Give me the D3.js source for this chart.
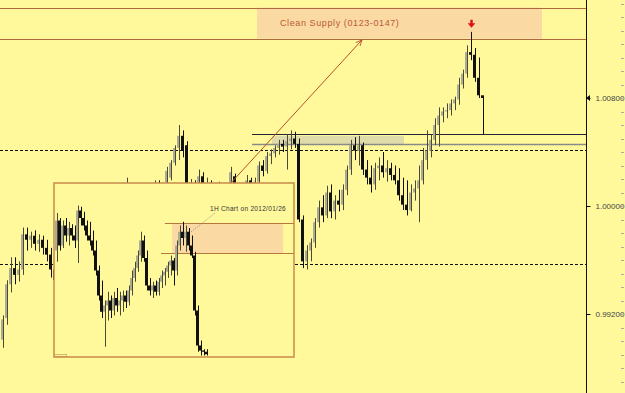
<!DOCTYPE html>
<html>
<head>
<meta charset="utf-8">
<script src="https://cdn.jsdelivr.net/npm/d3@7"></script>
<style>
  body { margin: 0; background: #fffa9e; }
  svg { display: block; }
</style>
</head>
<body>
<svg width="625" height="393"></svg>
<script>
// main chart, one row per bar: [open, high, low, close]
const mainBars = [
  [0.9901,0.9919,0.9895,0.9916],[0.9917,0.9945,0.9912,0.9942],[0.9942,0.9962,0.9936,0.9954],[0.9954,0.9962,0.9942,0.9949],
  [0.9949,0.9959,0.9944,0.9953],[0.9953,0.9984,0.9949,0.9979],[0.9979,0.9984,0.9967,0.9975],[0.9975,0.9981,0.9969,0.9978],
  [0.9978,0.9982,0.9967,0.9972],[0.9972,0.9979,0.9966,0.9975],[0.9975,0.9978,0.9964,0.9969],[0.9969,0.9975,0.9959,0.9964],
  [0.9964,0.9969,0.9947,0.9953],[0.9953,0.9960,0.9940,0.9945],[0.9945,0.9958,0.9940,0.9955],[0.9955,0.9966,0.9950,0.9963],
  [0.9963,0.9972,0.9958,0.9960],[0.9960,0.9975,0.9956,0.9972],[0.9972,0.9983,0.9968,0.9980],[0.9980,0.9986,0.9970,0.9974],
  [0.9974,0.9984,0.9969,0.9982],[0.9982,0.9992,0.9978,0.9988],[0.9988,0.9995,0.9980,0.9984],[0.9984,0.9994,0.9979,0.9991],
  [0.9991,1.0002,0.9986,0.9998],[0.9998,1.0006,0.9990,0.9993],[0.9993,1.0004,0.9988,1.0001],[1.0001,1.0010,0.9995,1.0006],
  [1.0006,1.0012,0.9998,1.0002],[1.0002,1.0010,0.9996,1.0007],[1.0007,1.0013,1.0000,1.0004],[1.0004,1.0021,1.0000,1.0008],
  [1.0008,1.0012,0.9998,1.0001],[1.0001,1.0008,0.9992,0.9996],[0.9996,1.0005,0.9990,1.0002],[1.0002,1.0010,0.9997,1.0006],
  [1.0006,1.0013,1.0000,1.0010],[1.0010,1.0015,1.0003,1.0007],[1.0007,1.0019,1.0004,1.0014],[1.0014,1.0019,1.0008,1.0012],
  [1.0012,1.0016,1.0005,1.0015],[1.0015,1.0029,1.0012,1.0026],[1.0021,1.0034,1.0019,1.0032],[1.0032,1.0045,1.0030,1.0043],
  [1.0043,1.0060,1.0034,1.0052],[1.0052,1.0056,1.0036,1.0041],[1.0045,1.0048,1.0002,1.0006],[1.0006,1.0020,1.0000,1.0016],
  [1.0016,1.0019,1.0004,1.0008],[1.0008,1.0027,1.0005,1.0022],[1.0022,1.0025,1.0010,1.0014],[1.0014,1.0021,1.0008,1.0017],
  [1.0017,1.0019,1.0006,1.0010],[1.0010,1.0016,1.0002,1.0012],[1.0012,1.0018,1.0006,1.0015],[1.0015,1.0017,1.0003,1.0008],
  [1.0008,1.0016,1.0004,1.0013],[1.0013,1.0029,1.0011,1.0025],[1.0022,1.0024,1.0008,1.0012],[1.0012,1.0016,1.0004,1.0010],
  [1.0010,1.0016,1.0006,1.0014],[1.0014,1.0023,1.0010,1.0019],[1.0019,1.0021,1.0008,1.0012],[1.0012,1.0021,1.0009,1.0018],
  [1.0018,1.0033,1.0015,1.0030],[1.0030,1.0034,1.0022,1.0026],[1.0026,1.0040,1.0024,1.0037],[1.0037,1.0042,1.0031,1.0039],
  [1.0039,1.0045,1.0036,1.0043],[1.0043,1.0049,1.0038,1.0046],[1.0046,1.0049,1.0040,1.0044],[1.0044,1.0053,1.0027,1.0048],
  [1.0048,1.0056,1.0042,1.0050],[1.0050,1.0055,1.0043,1.0046],[1.0046,1.0050,0.9988,0.9990],[0.9990,0.9993,0.9954,0.9959],
  [0.9959,0.9971,0.9953,0.9967],[0.9967,0.9976,0.9959,0.9973],[0.9973,0.9991,0.9969,0.9988],[0.9988,1.0004,0.9984,0.9999],
  [0.9999,1.0008,0.9988,0.9993],[0.9993,1.0015,0.9991,1.0010],[1.0010,1.0016,0.9991,0.9996],[0.9996,1.0008,0.9990,1.0004],
  [1.0004,1.0012,0.9996,1.0001],[1.0001,1.0016,0.9997,1.0012],[1.0012,1.0030,1.0008,1.0027],[1.0027,1.0049,1.0023,1.0045],
  [1.0045,1.0051,1.0034,1.0041],[1.0041,1.0052,1.0030,1.0045],[1.0045,1.0047,1.0023,1.0027],[1.0027,1.0034,1.0016,1.0021],
  [1.0021,1.0030,1.0010,1.0016],[1.0016,1.0032,1.0012,1.0028],[1.0028,1.0036,1.0019,1.0030],[1.0030,1.0040,1.0021,1.0025],
  [1.0025,1.0034,1.0018,1.0028],[1.0028,1.0032,1.0019,1.0023],[1.0023,1.0030,1.0016,1.0019],[1.0019,1.0028,1.0004,1.0008],
  [1.0008,1.0021,0.9997,1.0001],[1.0001,1.0019,0.9993,0.9997],[0.9997,1.0016,0.9996,1.0010],[1.0010,1.0019,1.0004,1.0013],
  [1.0013,1.0030,0.9988,1.0019],[1.0019,1.0043,1.0016,1.0034],[1.0034,1.0056,1.0027,1.0041],[1.0041,1.0053,1.0036,1.0049],
  [1.0049,1.0065,1.0045,1.0060],[1.0060,1.0073,1.0044,1.0067],[1.0067,1.0073,1.0062,1.0070],[1.0070,1.0076,1.0065,1.0071],
  [1.0071,1.0079,1.0067,1.0076],[1.0076,1.0081,1.0071,1.0079],[1.0079,1.0095,1.0075,1.0090],[1.0090,1.0101,1.0087,1.0098],
  [1.0098,1.0119,1.0095,1.0114],[1.0114,1.0129,1.0108,1.0112],[1.0112,1.0117,1.0092,1.0095],[1.0095,1.0110,1.0080,1.0082],
  [1.0082,1.0082,1.0053,1.0080]
];

// inset: the 1H chart of 2012/01/26, same layout [open, high, low, close]
const insetBars = [
  [1.0125,1.0155,1.0116,1.0149],[1.0149,1.0151,1.0125,1.0129],[1.0129,1.0149,1.0127,1.0145],[1.0145,1.0151,1.0132,1.0137],
  [1.0137,1.0148,1.0129,1.0143],[1.0143,1.0146,1.0133,1.0137],[1.0137,1.0145,1.0127,1.0133],[1.0133,1.0161,1.0115,1.0157],
  [1.0157,1.0160,1.0145,1.0151],[1.0151,1.0156,1.0141,1.0145],[1.0145,1.0149,1.0133,1.0137],[1.0137,1.0148,1.0129,1.0133],
  [1.0133,1.0141,1.0121,1.0125],[1.0125,1.0133,1.0105,1.0109],[1.0109,1.0113,1.0085,1.0089],[1.0089,1.0101,1.0071,1.0076],
  [1.0076,1.0085,1.0048,1.0081],[1.0081,1.0092,1.0069,1.0085],[1.0085,1.0089,1.0071,1.0077],[1.0077,1.0092,1.0073,1.0087],
  [1.0087,1.0095,1.0076,1.0081],[1.0081,1.0092,1.0073,1.0085],[1.0085,1.0093,1.0076,1.0089],[1.0089,1.0093,1.0079,1.0084],
  [1.0084,1.0097,1.0081,1.0093],[1.0093,1.0109,1.0089,1.0103],[1.0103,1.0116,1.0100,1.0111],[1.0111,1.0125,1.0108,1.0121],
  [1.0121,1.0140,1.0116,1.0133],[1.0133,1.0137,1.0116,1.0119],[1.0119,1.0125,1.0093,1.0097],[1.0097,1.0103,1.0089,1.0093],
  [1.0093,1.0100,1.0087,1.0097],[1.0097,1.0101,1.0089,1.0092],[1.0092,1.0103,1.0089,1.0100],[1.0100,1.0109,1.0095,1.0105],
  [1.0105,1.0111,1.0097,1.0108],[1.0108,1.0116,1.0103,1.0113],[1.0113,1.0121,1.0105,1.0117],[1.0117,1.0119,1.0097,1.0109],
  [1.0109,1.0133,1.0105,1.0129],[1.0129,1.0145,1.0125,1.0140],[1.0140,1.0148,1.0129,1.0135],[1.0135,1.0145,1.0124,1.0140],
  [1.0140,1.0143,1.0125,1.0129],[1.0129,1.0137,1.0119,1.0121],[1.0121,1.0124,1.0073,1.0077],[1.0077,1.0081,1.0044,1.0049],
  [1.0049,1.0053,1.0041,1.0045],[1.0045,1.0046,1.0041,1.0044],[1.0044,1.0046,1.0041,1.0042]
];

const priceTicks = [1.008, 1.000, 0.992];
const supplyZone = [1.0124, 1.0147];
const insetZone = [1.0123, 1.0147];
const solidLevel = 1.0053;
const grayLevel = 1.00456;
const dottedLevels = [1.00415, 0.9957];
const arrowLine = [[57.2, 1.0017], [90, 1.0123]];
const peakIndex = 117;
const lastPrice = 1.0080;
const supplyLabel = 'Clean Supply (0123-0147)';
const insetLabel = '1H Chart on 2012/01/26';

const W = 625, H = 393, axisX = 586;
const svg = d3.select('svg');

const x = d3.scaleLinear().domain([0, mainBars.length - 1]).range([2, 482]);
const y = d3.scaleLinear().domain([0.992, 1.008]).range([314, 98]);

svg.append('rect').attr('width', W).attr('height', H).attr('fill', '#fff99c');

// supply zone
const zone = svg.append('g');
zone.append('rect')
  .attr('x', x(63.75)).attr('y', y(supplyZone[1]))
  .attr('width', x(135) - x(63.75)).attr('height', y(supplyZone[0]) - y(supplyZone[1]))
  .attr('fill', '#fbd9a3');
zone.selectAll('line').data(supplyZone).join('line')
  .attr('x1', 0).attr('x2', axisX)
  .attr('y1', (d) => Math.round(y(d)) + 0.5).attr('y2', (d) => Math.round(y(d)) + 0.5)
  .attr('stroke', '#b0683e').attr('stroke-width', 1);
zone.append('text')
  .attr('x', 280).attr('y', (y(supplyZone[0]) + y(supplyZone[1])) / 2 + 3)
  .attr('fill', '#b85a36').style('font', '9px "Liberation Sans"').attr('letter-spacing', 0.6)
  .text(supplyLabel);

// levels
svg.append('rect')
  .attr('x', 272).attr('y', y(solidLevel) + 1.5)
  .attr('width', 132).attr('height', y(grayLevel) - y(solidLevel) - 1.5)
  .attr('fill', '#e0dcaa');
svg.append('line')
  .attr('x1', 252).attr('x2', axisX).attr('y1', Math.round(y(solidLevel)) + 0.5).attr('y2', Math.round(y(solidLevel)) + 0.5)
  .attr('stroke', '#22223a');
svg.append('line')
  .attr('x1', 252).attr('x2', axisX).attr('y1', Math.round(y(grayLevel)) + 0.5).attr('y2', Math.round(y(grayLevel)) + 0.5)
  .attr('stroke', '#8a8a88').attr('stroke-width', 1.6);
svg.selectAll('line.dotted').data(dottedLevels).join('line')
  .attr('class', 'dotted')
  .attr('x1', 0).attr('x2', axisX)
  .attr('y1', (d) => Math.round(y(d)) + 0.5).attr('y2', (d) => Math.round(y(d)) + 0.5)
  .attr('stroke', '#111').attr('stroke-dasharray', '3,2');

function drawCandles(g, bars, xs, ys) {
  const up = (d) => d[3] >= d[0];
  const c = g.selectAll('g.c').data(bars).join('g').attr('class', 'c');
  c.append('line')
    .attr('x1', (d, i) => Math.round(xs(i)) + 1.5).attr('x2', (d, i) => Math.round(xs(i)) + 1.5)
    .attr('y1', (d) => ys(d[1])).attr('y2', (d) => ys(d[2]))
    .attr('stroke', (d) => (up(d) ? '#4a4a3c' : '#111')).attr('stroke-width', 1);
  c.append('rect')
    .attr('x', (d, i) => Math.round(xs(i)) - 1)
    .attr('y', (d) => ys(Math.max(d[0], d[3])))
    .attr('width', 2)
    .attr('height', (d) => Math.max(1, Math.abs(ys(d[0]) - ys(d[3]))))
    .attr('fill', (d) => (up(d) ? '#aeac8e' : '#111'));
}

drawCandles(svg.append('g'), mainBars, x, y);

// arrow from the inset up to the supply zone
svg.append('defs').append('marker')
  .attr('id', 'head').attr('viewBox', '0 0 10 10').attr('refX', 9).attr('refY', 5)
  .attr('markerWidth', 7).attr('markerHeight', 7).attr('orient', 'auto')
  .append('path').attr('d', 'M0,1 L9,5 L0,9').attr('fill', 'none').attr('stroke', '#b8502a').attr('stroke-width', 1.2);
svg.append('path')
  .attr('d', d3.line().x((d) => x(d[0])).y((d) => y(d[1]))(arrowLine))
  .attr('stroke', '#b8502a').attr('fill', 'none').attr('marker-end', 'url(#head)');

// red marker above the top
const px = Math.round(x(peakIndex)) + 1.5, py = y(mainBars[peakIndex][1]);
svg.append('path')
  .attr('d', `M${px - 1.2},${py - 12} h2.4 v3.5 h2.6 l-3.8,4.5 l-3.8,-4.5 h2.6 z`)
  .attr('fill', '#e01010');

// inset
const box = { x: 54, y: 183, w: 240, h: 174 };
const ix = d3.scaleLinear().domain([0, insetBars.length - 1]).range([56, 206]);
const iy = d3.scaleLinear().domain([insetZone[1], insetZone[0]]).range([223, 253]);
const inset = svg.append('g');
inset.append('rect').attr('x', box.x).attr('y', box.y).attr('width', box.w).attr('height', box.h)
  .attr('fill', '#fff99c');
inset.append('rect')
  .attr('x', ix(38.7)).attr('y', iy(insetZone[1]))
  .attr('width', ix(75.7) - ix(38.7)).attr('height', iy(insetZone[0]) - iy(insetZone[1]))
  .attr('fill', '#fbd9a3');
inset.selectAll('line.z').data([[insetZone[1], 36.3], [insetZone[0], 35]]).join('line')
  .attr('class', 'z')
  .attr('x1', (d) => ix(d[1])).attr('x2', box.x + box.w)
  .attr('y1', (d) => Math.round(iy(d[0])) + 0.5).attr('y2', (d) => Math.round(iy(d[0])) + 0.5)
  .attr('stroke', '#b5773e');
drawCandles(inset.append('g'), insetBars, ix, iy);
inset.append('line')
  .attr('x1', 191).attr('y1', 232).attr('x2', 215).attr('y2', 213)
  .attr('stroke', '#8a8a8a').attr('stroke-dasharray', '1,1.5');
inset.append('text')
  .attr('x', 210).attr('y', 211).attr('fill', '#333')
  .style('font', '6.5px "Liberation Sans"').attr('letter-spacing', 0.3)
  .text(insetLabel);
inset.append('rect').attr('x', box.x + 0.5).attr('y', box.y + box.h - 2.5).attr('width', 12).attr('height', 2)
  .attr('fill', 'none').attr('stroke', '#c98a4b').attr('stroke-width', 0.6);
inset.append('rect').attr('x', box.x).attr('y', box.y).attr('width', box.w).attr('height', box.h)
  .attr('fill', 'none').attr('stroke', '#c98a4b').attr('stroke-width', 1.5);

// price axis
svg.append('line').attr('x1', axisX + 0.5).attr('x2', axisX + 0.5).attr('y1', 0).attr('y2', H)
  .attr('stroke', '#111');
const axis = svg.append('g').attr('transform', `translate(${axisX + 0.5},0)`)
  .call(d3.axisRight(y).tickValues(priceTicks).tickFormat(d3.format('.5f')).tickSize(4).tickPadding(5));
axis.select('.domain').remove();
axis.selectAll('text').attr('fill', '#444').style('font', '8px "Liberation Sans"');
svg.selectAll('line.minor').data(d3.range(0.977, 1.0225, 0.001)).join('line')
  .attr('class', 'minor')
  .attr('x1', 621).attr('x2', 624)
  .attr('y1', (d) => Math.round(y(d)) + 0.5).attr('y2', (d) => Math.round(y(d)) + 0.5)
  .attr('stroke', '#aaa');
svg.append('path')
  .attr('d', `M${axisX},${y(lastPrice)} l4,-3 v6 z`).attr('fill', '#111');
</script>
</body>
</html>
